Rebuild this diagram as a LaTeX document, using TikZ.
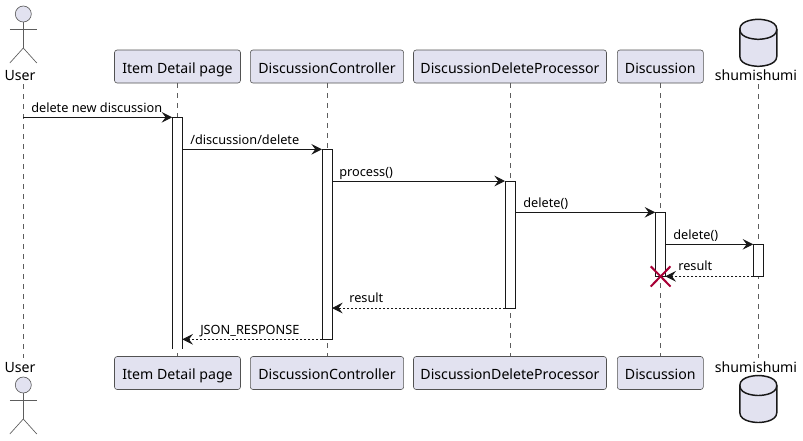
\documentclass[tikz,border=0pt]{standalone}
\usepackage{fontspec}
\setmainfont{Noto Sans}
\usetikzlibrary{arrows.meta}
\definecolor{boxfill}{HTML}{E2E2F0}
\definecolor{inkdark}{HTML}{181818}
\definecolor{crossred}{HTML}{A80036}
\tikzset{
	partbox/.style={draw=inkdark!75, line width=0.45pt, fill=boxfill, rounded corners=2pt, minimum height=24.75pt, inner sep=0pt, text height=11pt, text depth=0.6pt, font=\fontsize{10.6pt}{12pt}\selectfont},
	partname/.style={anchor=base, inner sep=0pt, font=\fontsize{10.6pt}{12pt}\selectfont},
	lifeline/.style={draw=inkdark!70, line width=0.4pt, dash pattern=on 3.75pt off 3.75pt},
	bar/.style={draw=inkdark, line width=0.75pt, fill=white, minimum width=7.5pt, inner sep=0pt, outer sep=0pt, anchor=north},
	msg/.style={draw=inkdark, line width=0.75pt, -{Stealth[length=8pt, width=8pt, inset=3pt]}},
	reply/.style={msg, dash pattern=on 1.5pt off 1.5pt},
	msglabel/.style={anchor=base west, inner sep=0pt, font=\fontsize{9.55pt}{12pt}\selectfont},
	actorline/.style={draw=inkdark!70, line width=0.5pt},
	dbline/.style={draw=inkdark, line width=1.1pt, fill=boxfill}
}
\def\actorman(#1,#2){
	\draw[actorline, fill=boxfill] (#1, #2+14) circle (6pt);
	\draw[actorline] (#1, #2+22) -- (#1, #2+48);
	\draw[actorline] (#1-13.5, #2+29) -- (#1+13.5, #2+29);
	\draw[actorline] (#1-13.5, #2+63) -- (#1, #2+48) -- (#1+13.5, #2+63);
}
\def\dbdrum(#1,#2){
	\draw[dbline] (#1-18.5, #2+10) .. controls (#1-18.5, #2) and (#1, #2) .. (#1, #2) .. controls (#1, #2) and (#1+18.5, #2) .. (#1+18.5, #2+10) -- (#1+18.5, #2+37) .. controls (#1+18.5, #2+47) and (#1, #2+47) .. (#1, #2+47) .. controls (#1, #2+47) and (#1-18.5, #2+47) .. (#1-18.5, #2+37) -- cycle;
	\draw[dbline, fill=none] (#1-18.5, #2+10) .. controls (#1-18.5, #2+20) and (#1, #2+20) .. (#1, #2+20) .. controls (#1, #2+20) and (#1+18.5, #2+20) .. (#1+18.5, #2+10);
}
\begin{document}
\begin{tikzpicture}[x=0.75pt, y=-0.75pt]
	\useasboundingbox (0, 0) rectangle (803, 440);
	%%%%% START %%%%%

	% heads
	\actorman(23.3, 0)
	\node[partname] (userTopName) at (20, 80) {User};
	\node[partbox, minimum width=94.5pt] (itemTop) at (177.5, 66.5) {Item Detail page};
	\node[partbox, minimum width=115pt] (ctrlTop) at (327, 66.5) {DiscussionController};
	\node[partbox, minimum width=144.75pt] (procTop) at (510, 66.5) {DiscussionDeleteProcessor};
	\node[partbox, minimum width=64.5pt] (discTop) at (660.3, 66.5) {Discussion};
	\dbdrum(758.3, 19.3)
	\node[partname] (shumiTopName) at (756, 80) {shumishumi};

	% feet
	\node[partname] (userBotName) at (20, 372) {User};
	\actorman(23.3, 371)
	\node[partbox, minimum width=94.5pt] (itemBot) at (177.5, 373) {Item Detail page};
	\node[partbox, minimum width=115pt] (ctrlBot) at (327, 373) {DiscussionController};
	\node[partbox, minimum width=144.75pt] (procBot) at (510, 373) {DiscussionDeleteProcessor};
	\node[partbox, minimum width=64.5pt] (discBot) at (660.3, 373) {Discussion};
	\node[partname] (shumiBotName) at (756, 372) {shumishumi};
	\dbdrum(758.3, 375.5)

	% lifelines
	\coordinate (userTop) at (23.3, 84);
	\coordinate (userBot) at (23.3, 358);
	\coordinate (shumiTop) at (758.3, 84);
	\coordinate (shumiBot) at (758.3, 358);
	\draw[lifeline] (userTop) -- (userBot);
	\draw[lifeline] (itemTop) -- (itemBot);
	\draw[lifeline] (ctrlTop) -- (ctrlBot);
	\draw[lifeline] (procTop) -- (procBot);
	\draw[lifeline] (discTop) -- (discBot);
	\draw[lifeline] (shumiTop) -- (shumiBot);

	% activations
	\node[bar, draw=none, minimum height=173.8pt] (itemBar) at (177.3, 117.3) {};
	\draw[draw=inkdark, line width=0.75pt] (itemBar.south west) |- (itemBar.north east) -- (itemBar.south east);
	\node[bar, minimum height=142.5pt] (ctrlBar) at (327, 149.3) {};
	\node[bar, minimum height=95.25pt] (procBar) at (510, 181) {};
	\node[bar, minimum height=48pt] (discBar) at (660.3, 212.3) {};
	\node[bar, minimum height=24pt] (shumiBar) at (758.3, 244.3) {};

	% messages
	\draw[msg] (userTop |- itemBar.north) -- (itemBar.north west);
	\draw[msg] (itemBar.east |- ctrlBar.north) -- (ctrlBar.north west);
	\draw[msg] (ctrlBar.east |- procBar.north) -- (procBar.north west);
	\draw[msg] (procBar.east |- discBar.north) -- (discBar.north west);
	\draw[msg] (discBar.east |- shumiBar.north) -- (shumiBar.north west);
	\draw[reply] (shumiBar.south west) -- (discBar.south east);
	\draw[reply] (procBar.south west) -- (ctrlBar.east |- procBar.south);
	\draw[reply] (ctrlBar.south west) -- (itemBar.east |- ctrlBar.south);

	\node[msglabel] (askLabel) at (31, 112) {delete new discussion};
	\node[msglabel] (postLabel) at (190, 144) {/discussion/delete};
	\node[msglabel] (processLabel) at (339, 176) {process()};
	\node[msglabel] (deleteLabel) at (523, 207) {delete()};
	\node[msglabel] (dropLabel) at (673, 239) {delete()};
	\node[msglabel] (dropResult) at (678, 270) {result};
	\node[msglabel] (procResult) at (349, 302) {result};
	\node[msglabel] (jsonLabel) at (200, 334) {JSON\_RESPONSE};

	% destroy mark
	\draw[draw=crossred, line width=1.5pt] (650.7, 266.3) -- (670.5, 286.5);
	\draw[draw=crossred, line width=1.5pt] (650.7, 286.5) -- (670.5, 266.3);

	%%%%% END %%%%%
\end{tikzpicture}
\end{document}
